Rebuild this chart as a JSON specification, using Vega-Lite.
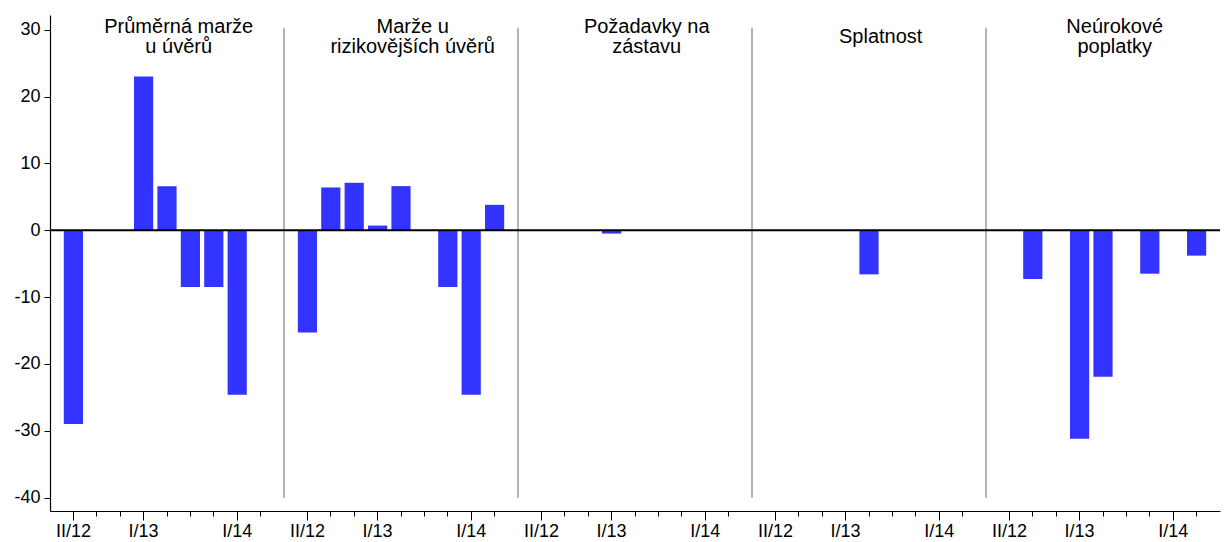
{
  "$schema": "https://vega.github.io/schema/vega-lite/v6.json",
  "width": 1170,
  "height": 496,
  "padding": {"left": 13, "top": 15, "right": 5, "bottom": 5},
  "background": "white",
  "config": {
    "view": {"stroke": null},
    "font": "Liberation Sans",
    "axis": {"grid": false, "labelFont": "Liberation Sans", "labelColor": "black", "domainColor": "black", "tickColor": "black"}
  },
  "datasets": {
    "bars": [
      {"k": "g1 II/12", "v": -29.0}, {"k": "g1 III/12", "v": 0}, {"k": "g1 IV/12", "v": 0}, {"k": "g1 I/13", "v": 23.0}, {"k": "g1 II/13", "v": 6.6}, {"k": "g1 III/13", "v": -8.5}, {"k": "g1 IV/13", "v": -8.5}, {"k": "g1 I/14", "v": -24.6}, {"k": "g1 II/14", "v": 0},
      {"k": "g2 II/12", "v": -15.3}, {"k": "g2 III/12", "v": 6.4}, {"k": "g2 IV/12", "v": 7.1}, {"k": "g2 I/13", "v": 0.7}, {"k": "g2 II/13", "v": 6.6}, {"k": "g2 III/13", "v": 0}, {"k": "g2 IV/13", "v": -8.5}, {"k": "g2 I/14", "v": -24.6}, {"k": "g2 II/14", "v": 3.8},
      {"k": "g3 II/12", "v": 0}, {"k": "g3 III/12", "v": 0}, {"k": "g3 IV/12", "v": 0}, {"k": "g3 I/13", "v": -0.5}, {"k": "g3 II/13", "v": 0}, {"k": "g3 III/13", "v": 0}, {"k": "g3 IV/13", "v": 0}, {"k": "g3 I/14", "v": 0}, {"k": "g3 II/14", "v": 0},
      {"k": "g4 II/12", "v": 0}, {"k": "g4 III/12", "v": 0}, {"k": "g4 IV/12", "v": 0}, {"k": "g4 I/13", "v": 0}, {"k": "g4 II/13", "v": -6.6}, {"k": "g4 III/13", "v": 0}, {"k": "g4 IV/13", "v": 0}, {"k": "g4 I/14", "v": 0}, {"k": "g4 II/14", "v": 0},
      {"k": "g5 II/12", "v": 0}, {"k": "g5 III/12", "v": -7.3}, {"k": "g5 IV/12", "v": 0}, {"k": "g5 I/13", "v": -31.2}, {"k": "g5 II/13", "v": -21.9}, {"k": "g5 III/13", "v": 0}, {"k": "g5 IV/13", "v": -6.5}, {"k": "g5 I/14", "v": 0}, {"k": "g5 II/14", "v": -3.8}
    ],
    "seps": [{"k": "g1 gap"}, {"k": "g2 gap"}, {"k": "g3 gap"}, {"k": "g4 gap"}],
    "titles2": [
      {"k": "g1 II/13", "t": ["Průměrná marže", "u úvěrů"]},
      {"k": "g2 II/13", "t": ["Marže u", "rizikovějších úvěrů"]},
      {"k": "g3 II/13", "t": ["Požadavky na", "zástavu"]},
      {"k": "g5 II/13", "t": ["Neúrokové", "poplatky"]}
    ],
    "titles1": [
      {"k": "g4 II/13", "t": "Splatnost"}
    ]
  },
  "encoding": {
    "x": {
      "field": "k",
      "type": "ordinal",
      "sort": null,
      "scale": {
        "domain": [
          "g1 II/12", "g1 III/12", "g1 IV/12", "g1 I/13", "g1 II/13", "g1 III/13", "g1 IV/13", "g1 I/14", "g1 II/14", "g1 gap",
          "g2 II/12", "g2 III/12", "g2 IV/12", "g2 I/13", "g2 II/13", "g2 III/13", "g2 IV/13", "g2 I/14", "g2 II/14", "g2 gap",
          "g3 II/12", "g3 III/12", "g3 IV/12", "g3 I/13", "g3 II/13", "g3 III/13", "g3 IV/13", "g3 I/14", "g3 II/14", "g3 gap",
          "g4 II/12", "g4 III/12", "g4 IV/12", "g4 I/13", "g4 II/13", "g4 III/13", "g4 IV/13", "g4 I/14", "g4 II/14", "g4 gap",
          "g5 II/12", "g5 III/12", "g5 IV/12", "g5 I/13", "g5 II/13", "g5 III/13", "g5 IV/13", "g5 I/14", "g5 II/14"
        ],
        "paddingInner": 0,
        "paddingOuter": 0.5
      },
      "axis": {
        "title": null,
        "labelAngle": 0,
        "labelFontSize": 18,
        "labelPadding": 2,
        "domainWidth": 1.2,
        "tickWidth": 1,
        "labelExpr": "indexof(['II/12','I/13','I/14'], split(datum.value,' ')[1]) >= 0 ? split(datum.value,' ')[1] : ''",
        "tickSize": {"condition": {"test": "indexof(['II/12','I/13','I/14'], split(datum.value,' ')[1]) >= 0", "value": 9}, "value": 5},
        "tickOpacity": {"condition": {"test": "indexof(datum.value,'gap') >= 0", "value": 0}, "value": 1}
      }
    }
  },
  "layer": [
    {
      "data": {"name": "bars"},
      "mark": {"type": "bar", "color": "#3333ff", "width": {"band": 0.82}},
      "encoding": {
        "y": {
          "field": "v",
          "type": "quantitative",
          "scale": {"domain": [-42, 32.2], "nice": false, "zero": false},
          "axis": {"title": null, "values": [-40, -30, -20, -10, 0, 10, 20, 30], "labelExpr": "'' + datum.value", "labelFontSize": 18, "tickSize": 6, "labelPadding": 4, "domainWidth": 1.2}
        }
      }
    },
    {
      "data": {"name": "seps"},
      "mark": {"type": "rule", "color": "#808080", "strokeWidth": 1.2},
      "encoding": {
        "y": {"datum": 30.3},
        "y2": {"datum": -40}
      }
    },
    {
      "data": {"values": [{}]},
      "mark": {"type": "rule", "color": "black", "strokeWidth": 2},
      "encoding": {"y": {"datum": 0}, "x": null}
    },
    {
      "data": {"name": "titles2"},
      "mark": {"type": "text", "fontSize": 20, "baseline": "middle", "align": "center", "lineHeight": 20, "color": "black"},
      "encoding": {
        "x": {"field": "k", "type": "ordinal", "bandPosition": 1},
        "y": {"datum": 30.45},
        "text": {"field": "t"}
      }
    },
    {
      "data": {"name": "titles1"},
      "mark": {"type": "text", "fontSize": 20, "baseline": "middle", "align": "center", "color": "black"},
      "encoding": {
        "x": {"field": "k", "type": "ordinal", "bandPosition": 1},
        "y": {"datum": 28.96},
        "text": {"field": "t"}
      }
    }
  ]
}
